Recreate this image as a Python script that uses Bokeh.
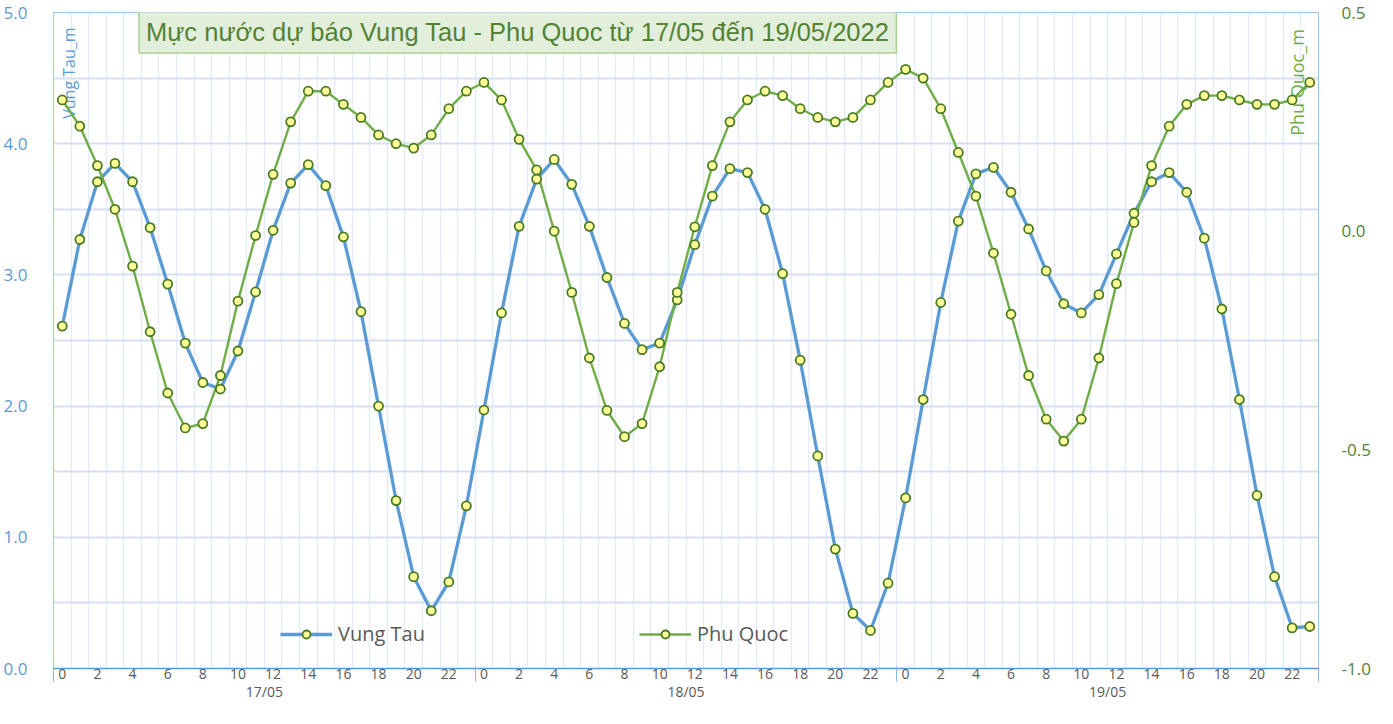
import math
from bokeh.plotting import figure
from bokeh.models import (Range1d, LinearAxis, FixedTicker, NumeralTickFormatter,
                          Label, Legend, LegendItem, ColumnDataSource)
from bokeh.embed import file_html
from bokeh.resources import INLINE

# ---------------- data ----------------
days = ["17/05", "18/05", "19/05"]
hours = list(range(24))
hour_tick_labels = [str(h) for h in range(0, 24, 2)]

vung_tau = [
    2.61, 3.27, 3.71, 3.85, 3.71, 3.36, 2.93, 2.48, 2.18, 2.13, 2.42, 2.87,
    3.34, 3.70, 3.84, 3.68, 3.29, 2.72, 2.00, 1.28, 0.70, 0.44, 0.66, 1.24,
    1.97, 2.71, 3.37, 3.73, 3.88, 3.69, 3.37, 2.98, 2.63, 2.43, 2.48, 2.81,
    3.23, 3.60, 3.81, 3.78, 3.50, 3.01, 2.35, 1.62, 0.91, 0.42, 0.29, 0.65,
    1.30, 2.05, 2.79, 3.41, 3.77, 3.82, 3.63, 3.35, 3.03, 2.78, 2.71, 2.85,
    3.16, 3.47, 3.71, 3.78, 3.63, 3.28, 2.74, 2.05, 1.32, 0.70, 0.31, 0.32,
]
phu_quoc = [
    0.30, 0.24, 0.15, 0.05, -0.08, -0.23, -0.37, -0.45, -0.44, -0.33, -0.16, -0.01,
    0.13, 0.25, 0.32, 0.32, 0.29, 0.26, 0.22, 0.20, 0.19, 0.22, 0.28, 0.32,
    0.34, 0.30, 0.21, 0.14, 0.00, -0.14, -0.29, -0.41, -0.47, -0.44, -0.31, -0.14,
    0.01, 0.15, 0.25, 0.30, 0.32, 0.31, 0.28, 0.26, 0.25, 0.26, 0.30, 0.34,
    0.37, 0.35, 0.28, 0.18, 0.08, -0.05, -0.19, -0.33, -0.43, -0.48, -0.43, -0.29,
    -0.12, 0.02, 0.15, 0.24, 0.29, 0.31, 0.31, 0.30, 0.29, 0.29, 0.30, 0.34,
]

title_text = "Mực nước dự báo Vung Tau - Phu Quoc từ 17/05 đến 19/05/2022"

# ---------------- build ----------------
n_h = len(hours)
n = len(days) * n_h
xs = list(range(n))
src = ColumnDataSource(dict(x=xs, vt=vung_tau, pq=phu_quoc))

BLUE = "#5B9BD5"
GREEN = "#70AD47"
DKGREEN = "#548235"
MK_LINE = "#4A7A22"
MK_FILL = "#FFFF99"
FONT = "Open Sans"

p = figure(width=1377, height=708, output_backend="svg", toolbar_location=None,
           x_range=Range1d(-0.5, n - 0.5), y_range=Range1d(0, 5),
           min_border_left=48, min_border_right=59, min_border_top=12,
           min_border_bottom=40)
p.extra_y_ranges = {"pq": Range1d(-1.0, 0.5)}
p.background_fill_color = "white"
p.border_fill_color = "white"
p.outline_line_color = "#9DC3E6"
p.outline_line_width = 1

# grids
p.xgrid.ticker = FixedTicker(ticks=[i + 0.5 for i in range(n - 1)])
p.xgrid.grid_line_color = "#E6ECF7"
p.xgrid.grid_line_width = 1.5
p.ygrid.ticker = FixedTicker(ticks=[0.5 * k for k in range(1, 10)])
p.ygrid.grid_line_color = "#D6E0F1"
p.ygrid.grid_line_width = 2

# x axis (hours)
xa = p.xaxis[0]
hour_ticks = [d * n_h + h for d in range(len(days)) for h in range(0, n_h, 2)]
xa.ticker = FixedTicker(ticks=hour_ticks)
xa.major_label_overrides = {d * n_h + int(lbl): lbl
                            for d in range(len(days)) for lbl in hour_tick_labels}
xa.major_tick_out = 0
xa.major_tick_in = 0
xa.minor_tick_line_color = None
xa.axis_line_color = BLUE
xa.axis_line_width = 1.5
xa.major_label_standoff = 0
xa.major_label_text_font = FONT
xa.major_label_text_font_size = "14px"
xa.major_label_text_color = "#595959"

# day axis, whose minor ticks (pointing up) mark the day boundaries
day_centers = [d * n_h + (n_h - 1) / 2 for d in range(len(days))]
da = LinearAxis(ticker=FixedTicker(ticks=day_centers,
                                   minor_ticks=[d * n_h - 0.5 for d in range(len(days) + 1)]))
da.major_label_overrides = {c: lbl for c, lbl in zip(day_centers, days)}
da.axis_line_color = None
da.major_tick_line_color = None
da.major_tick_out = 0
da.major_tick_in = 0
da.minor_tick_out = 0
da.minor_tick_in = 15
da.minor_tick_line_color = "#8FB4E3"
da.minor_tick_line_width = 1
da.major_label_standoff = 0
da.major_label_text_font = FONT
da.major_label_text_font_size = "14px"
da.major_label_text_color = "#595959"
p.add_layout(da, "below")

# left y axis
ya = p.yaxis[0]
ya.ticker = FixedTicker(ticks=[0, 1, 2, 3, 4, 5])
ya.formatter = NumeralTickFormatter(format="0.0")
ya.axis_line_color = None
ya.major_tick_line_color = None
ya.minor_tick_line_color = None
ya.major_label_standoff = 20
ya.major_label_text_font = FONT
ya.major_label_text_font_size = "17px"
ya.major_label_text_color = BLUE

# right y axis
ra = LinearAxis(y_range_name="pq", ticker=FixedTicker(ticks=[-1.0, -0.5, 0.0, 0.5]))
ra.formatter = NumeralTickFormatter(format="0.0")
ra.axis_line_color = None
ra.major_tick_line_color = None
ra.minor_tick_line_color = None
ra.major_label_standoff = 17
ra.major_label_text_font = FONT
ra.major_label_text_font_size = "17px"
ra.major_label_text_color = DKGREEN
p.add_layout(ra, "right")

# axis titles inside plot
p.add_layout(Label(x=0.41, y=4.19, text="Vung Tau_m", angle=math.pi / 2,
                   text_align="left", text_baseline="middle",
                   text_font=FONT, text_font_size="16px", text_color=BLUE,
                   level="underlay"))
p.add_layout(Label(x=70.3, y=4.06, text="Phu Quoc_m", angle=math.pi / 2,
                   text_align="left", text_baseline="middle",
                   text_font=FONT, text_font_size="18px", text_color=GREEN,
                   level="underlay"))

# series
vt_line = p.line("x", "vt", source=src, line_color=BLUE, line_width=3.3)
pq_line = p.line("x", "pq", source=src, y_range_name="pq", line_color=GREEN, line_width=2.4)
vt_pts = p.scatter("x", "vt", source=src, size=9, marker="circle",
                   fill_color=MK_FILL, line_color=MK_LINE, line_width=1.8)
pq_pts = p.scatter("x", "pq", source=src, y_range_name="pq", size=9, marker="circle",
                   fill_color=MK_FILL, line_color=MK_LINE, line_width=1.8)

# title box
p.add_layout(Label(x=25.92, y=4.852, text=title_text,
                   text_align="center", text_baseline="middle",
                   text_font="Liberation Sans", text_font_size="25.5px",
                   text_color=DKGREEN,
                   background_fill_color="#E2EFDA",
                   border_line_color="#A9D18E", border_line_width=1.5,
                   padding=7))

# legends
def make_legend(label, rends, loc):
    lg = Legend(items=[LegendItem(label=label, renderers=rends)], location=loc,
                orientation="horizontal",
                background_fill_alpha=0, border_line_alpha=0,
                padding=0, margin=0, spacing=0,
                glyph_width=52, glyph_height=20, label_height=20,
                label_standoff=6, label_text_font=FONT,
                label_text_font_size="20px", label_text_color="#595959")
    p.add_layout(lg)

make_legend("Vung Tau", [vt_line, vt_pts], (227, 21))
make_legend("Phu Quoc", [pq_line, pq_pts], (586, 21))

open("out.html", "w").write(file_html(p, INLINE))
